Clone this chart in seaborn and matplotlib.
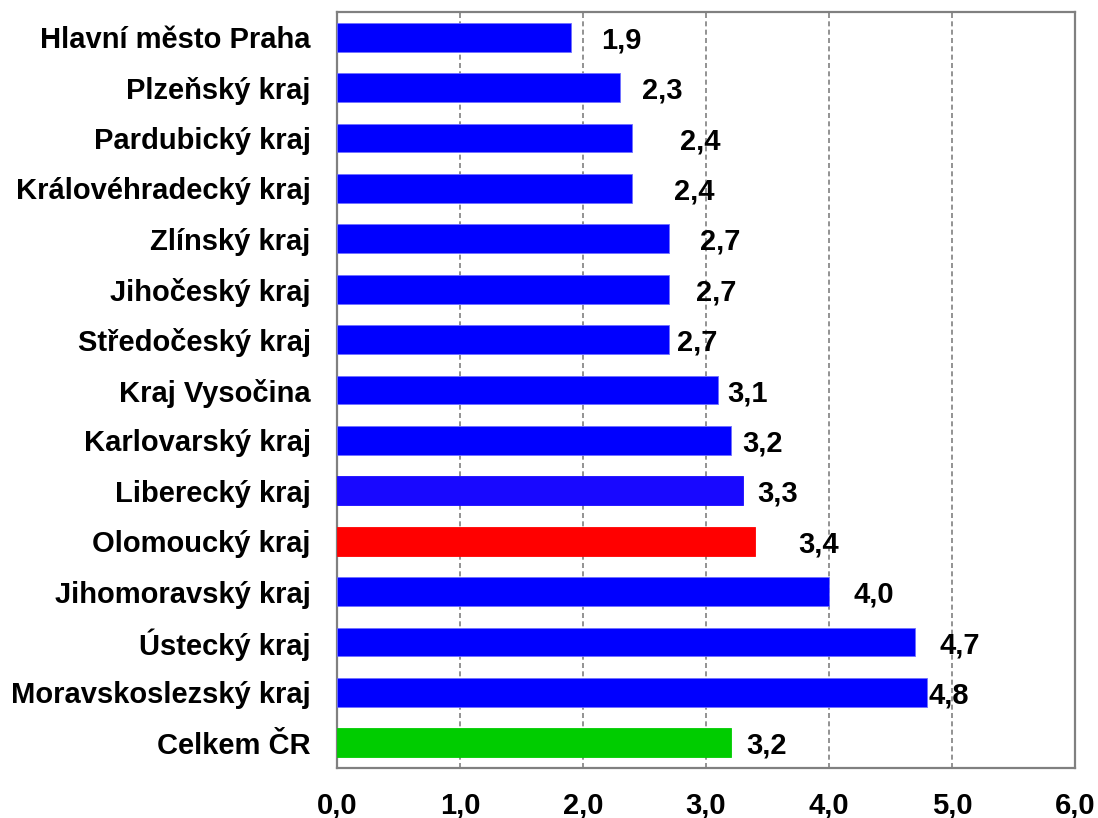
import pandas as pd
import seaborn as sns
import matplotlib.pyplot as plt

# data
regions = ['Hlavní město Praha', 'Plzeňský kraj', 'Pardubický kraj',
           'Královéhradecký kraj', 'Zlínský kraj', 'Jihočeský kraj',
           'Středočeský kraj', 'Kraj Vysočina', 'Karlovarský kraj',
           'Liberecký kraj', 'Olomoucký kraj', 'Jihomoravský kraj',
           'Ústecký kraj', 'Moravskoslezský kraj', 'Celkem ČR']
values = [1.9, 2.3, 2.4, 2.4, 2.7, 2.7, 2.7, 3.1, 3.2, 3.3, 3.4, 4.0, 4.7, 4.8, 3.2]
ticks = [0, 1, 2, 3, 4, 5, 6]

# style
bar_colors = ['#0000FF'] * 9 + ['#1808FF', '#FF0000', '#0000FF', '#0000FF', '#0000FF', '#00CC00']
label_dx = [30, 22, 48, 42, 31, 27, 8, 9, 12, 14, 43, 24, 24, 1, 16]  # pixel nudges of value labels

df = pd.DataFrame({'region': regions, 'value': values})

sns.set_style('white')
plt.rcParams['font.family'] = ['Liberation Sans', 'DejaVu Sans']
plt.rcParams['text.color'] = 'black'
plt.rcParams['xtick.color'] = 'black'
plt.rcParams['ytick.color'] = 'black'

fig = plt.figure(figsize=(10.98, 8.18), dpi=100)
ax = fig.add_axes([337/1098, 1-768/818, (1075-337)/1098, (768-12)/818])

sns.barplot(data=df, x='value', y='region', hue='region', palette=bar_colors,
            saturation=1, legend=False, width=0.57, orient='h', ax=ax,
            edgecolor='#7070FF', linewidth=0.6, zorder=3)
for p, c in zip(ax.patches, bar_colors):
    if c != '#0000FF':
        p.set_edgecolor(c)

ax.set_xlim(0, 6)
ax.set_ylim(len(regions)-0.5, -0.5)
ax.set_xticks(ticks)
ax.set_xticklabels([f'{t:.1f}'.replace('.', ',') for t in ticks])
ax.set_xlabel('')
ax.set_ylabel('')
ax.xaxis.grid(True, color='#808080', linestyle=(0, (3, 2)), linewidth=1.2, zorder=0)
ax.set_axisbelow(True)
ax.tick_params(axis='both', length=0, labelsize=21)
ax.tick_params(axis='x', pad=17)
ax.tick_params(axis='y', pad=19)
for lab in ax.get_xticklabels() + ax.get_yticklabels():
    lab.set_fontweight('bold')
for s in ax.spines.values():
    s.set_color('#808080')
    s.set_linewidth(1.6)

for i, (v, dx) in enumerate(zip(values, label_dx)):
    ax.annotate(f'{v:.1f}'.replace('.', ','), xy=(v, i), xytext=(dx, -3),
                textcoords='offset pixels', ha='left', va='center',
                fontsize=21, fontweight='bold', color='black')

plt.savefig('out.png', dpi=100)
